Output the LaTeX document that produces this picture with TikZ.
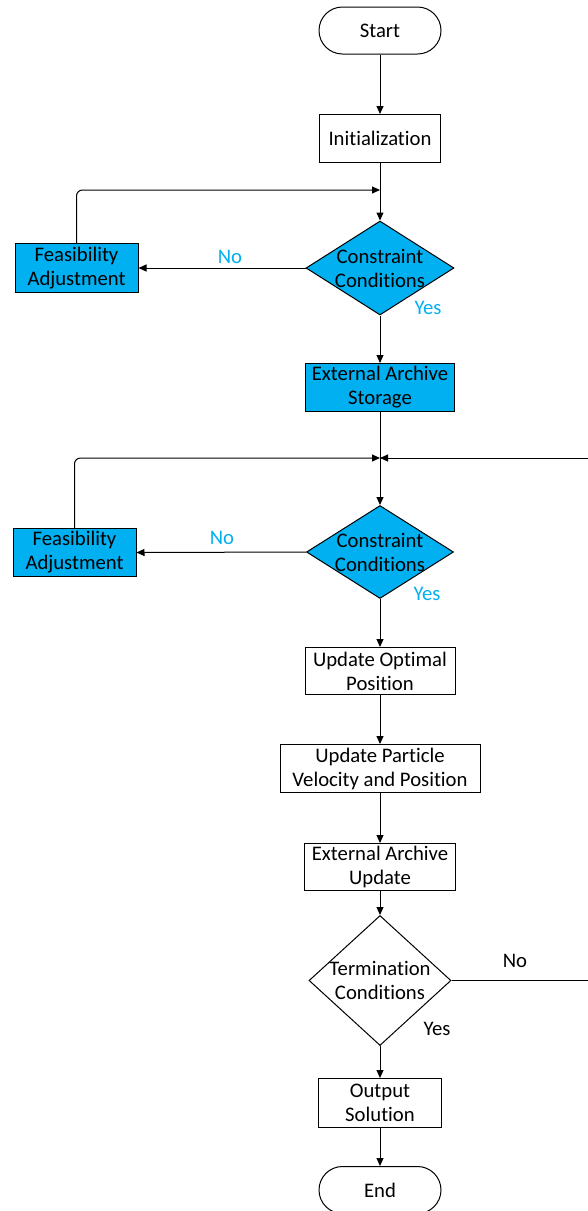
\documentclass[tikz,border=0pt]{standalone}
\usepackage{fontspec}
\setmainfont{Carlito}[Ligatures=NoCommon]
\usetikzlibrary{arrows.meta,shapes.geometric}
\definecolor{cy}{HTML}{00B0F0}
\begin{document}
\begin{tikzpicture}[x=1pt,y=-1pt, line width=1pt,
  >={Triangle[length=8pt,width=7pt]},
  every node/.style={font=\fontsize{20.7}{24}\selectfont, align=center},
  proc/.style={draw, rectangle, inner sep=0pt, minimum height=48pt},
  term/.style={draw, rectangle, rounded corners=23.5pt, minimum width=122pt, minimum height=47pt, inner sep=0pt},
  dia/.style={draw, diamond, inner sep=0pt},
  hl/.style={fill=cy},
  cylab/.style={text=cy},
  loop/.style={->, rounded corners=6pt}]
\useasboundingbox (0,0) rectangle (587,1211);

\node[term] (start) at (380,30.5) {Start};
\node[proc, minimum width=121pt] (init) at (380,138.5) {Initialization};
\node[dia, hl, minimum width=148pt, minimum height=94pt,
  label={[align=center]center:Constraint\\Conditions}] (d1) at (380,268) {};
\node[proc, hl, minimum width=123pt, minimum height=49pt] (fa1) at (76.5,268) {Feasibility\\Adjustment};
\node[proc, hl, minimum width=149pt] (eas) at (380,387.5) {External Archive\\Storage};
\node[dia, hl, minimum width=147pt, minimum height=93pt,
  label={[align=center]center:Constraint\\Conditions}] (d2) at (380,552) {};
\node[proc, hl, minimum width=123pt] (fa2) at (74.5,552.5) {Feasibility\\Adjustment};
\node[proc, minimum width=150pt, minimum height=47pt] (uop) at (380,671) {Update Optimal\\Position};
\node[proc, minimum width=200pt] (upv) at (380,768.5) {Update Particle\\Velocity and Position};
\node[proc, minimum width=151pt, minimum height=47pt] (eau) at (380,867) {External Archive\\Update};
\node[dia, minimum width=142pt, minimum height=130pt,
  label={[align=center]center:Termination\\Conditions}] (d3) at (380,980.5) {};
\node[proc, minimum width=123pt, minimum height=49pt] (out) at (380,1103) {Output\\Solution};
\node[term] (end) at (380,1190) {End};

\coordinate (j1) at (380,190);
\coordinate (j2) at (380,458);
\coordinate (r1) at (592,458);
\coordinate (r2) at (592,980.5);

\draw[->] (start) -- (init);
\draw[->] (init) -- (d1);
\draw[loop] (fa1.north) |- (j1);
\draw[->] (d1.west) -- (fa1.east);
\draw[->] (d1) -- (eas);
\draw[->] (eas) -- (d2);
\draw[loop] (fa2.north) |- (j2);
\draw[->] (d2.west) -- (fa2.east);
\draw[->] (d2) -- (uop);
\draw[->] (uop) -- (upv);
\draw[->] (upv) -- (eau);
\draw[->] (eau) -- (d3);
\draw[->] (d3) -- (out);
\draw[->] (out) -- (end);
\draw[->] (d3.east) -- (r2) -- (r1) -- (j2);

\node[cylab] (no1) at (230,256.5) {No};
\node[cylab] (yes1) at (428,307.5) {Yes};
\node[cylab] (no2) at (222,537.5) {No};
\node[cylab] (yes2) at (427,593.5) {Yes};
\node (no3) at (515,960.5) {No};
\node (yes3) at (437,1028.5) {Yes};
\end{tikzpicture}
\end{document}
